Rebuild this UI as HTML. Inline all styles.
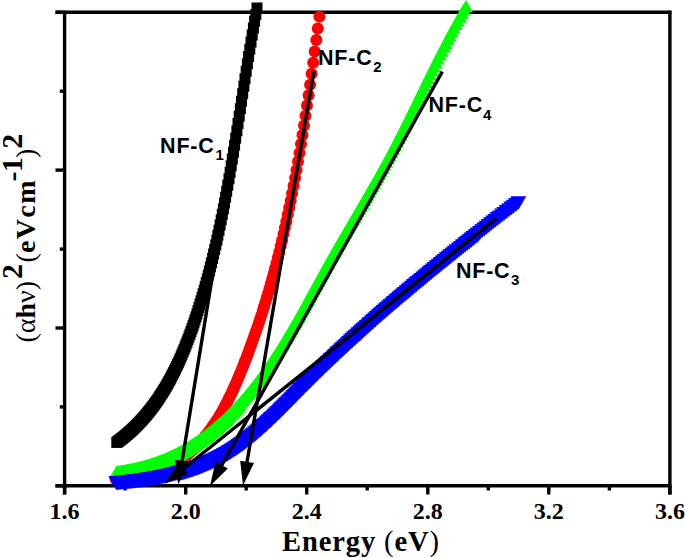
<!DOCTYPE html>
<html><head><meta charset="utf-8"><style>
html,body{margin:0;padding:0;background:#fff;width:685px;height:558px;overflow:hidden}
svg{display:block}
</style></head><body><svg width="685" height="558" viewBox="0 0 685 558"><g stroke="#000" stroke-width="3.4"><line x1="55.5" y1="12.3" x2="671.4" y2="12.3"/><line x1="64.6" y1="10.8" x2="64.6" y2="494.5"/><line x1="55.5" y1="485.8" x2="671.4" y2="485.8"/><line x1="669.9" y1="10.8" x2="669.9" y2="494.5"/><line x1="64.6" y1="485.8" x2="64.6" y2="494.5"/><line x1="125.1" y1="485.8" x2="125.1" y2="490.5"/><line x1="185.7" y1="485.8" x2="185.7" y2="494.5"/><line x1="246.2" y1="485.8" x2="246.2" y2="490.5"/><line x1="306.7" y1="485.8" x2="306.7" y2="494.5"/><line x1="367.2" y1="485.8" x2="367.2" y2="490.5"/><line x1="427.8" y1="485.8" x2="427.8" y2="494.5"/><line x1="488.3" y1="485.8" x2="488.3" y2="490.5"/><line x1="548.8" y1="485.8" x2="548.8" y2="494.5"/><line x1="609.4" y1="485.8" x2="609.4" y2="490.5"/><line x1="669.9" y1="485.8" x2="669.9" y2="494.5"/><line x1="55.5" y1="12.3" x2="64.6" y2="12.3"/><line x1="59.8" y1="91.2" x2="64.6" y2="91.2"/><line x1="55.5" y1="170.1" x2="64.6" y2="170.1"/><line x1="59.8" y1="249.1" x2="64.6" y2="249.1"/><line x1="55.5" y1="328.0" x2="64.6" y2="328.0"/><line x1="59.8" y1="406.9" x2="64.6" y2="406.9"/><line x1="55.5" y1="485.8" x2="64.6" y2="485.8"/></g><g font-family="Liberation Serif, serif" font-weight="bold" font-size="24" text-anchor="middle"><text x="64.6" y="518.8">1.6</text><text x="185.7" y="518.8">2.0</text><text x="306.7" y="518.8">2.4</text><text x="427.8" y="518.8">2.8</text><text x="548.8" y="518.8">3.2</text><text x="669.9" y="518.8">3.6</text></g><text x="361" y="550.8" font-family="Liberation Serif, serif" font-weight="bold" font-size="28.5" text-anchor="middle" letter-spacing="0.9">Energy <tspan font-weight="normal">(</tspan>eV<tspan font-weight="normal">)</tspan></text><text transform="translate(35,342.5) rotate(-90)" font-family="Liberation Serif, serif" font-weight="bold" font-size="28"><tspan font-weight="normal">(α</tspan>h<tspan font-weight="normal">ν)</tspan><tspan dy="-13" font-size="30" dx="2">2</tspan><tspan dy="13" font-weight="normal" dx="1.5">(</tspan><tspan letter-spacing="1.4">eVc</tspan>m<tspan dy="-13" font-size="30" dx="-1" letter-spacing="-0.8">-1</tspan><tspan dy="13" font-weight="normal">)</tspan><tspan dy="-13" font-size="30">2</tspan></text><g fill="#000"><rect x="111.3" y="436.9" width="11" height="11"/><rect x="112.0" y="436.4" width="11" height="11"/><rect x="112.8" y="435.8" width="11" height="11"/><rect x="113.6" y="435.2" width="11" height="11"/><rect x="114.4" y="434.6" width="11" height="11"/><rect x="115.1" y="434.0" width="11" height="11"/><rect x="115.9" y="433.4" width="11" height="11"/><rect x="116.7" y="432.8" width="11" height="11"/><rect x="117.5" y="432.2" width="11" height="11"/><rect x="118.3" y="431.5" width="11" height="11"/><rect x="119.1" y="430.9" width="11" height="11"/><rect x="119.8" y="430.2" width="11" height="11"/><rect x="120.6" y="429.6" width="11" height="11"/><rect x="121.4" y="428.9" width="11" height="11"/><rect x="122.2" y="428.2" width="11" height="11"/><rect x="123.0" y="427.5" width="11" height="11"/><rect x="123.8" y="426.8" width="11" height="11"/><rect x="124.6" y="426.1" width="11" height="11"/><rect x="125.4" y="425.3" width="11" height="11"/><rect x="126.3" y="424.6" width="11" height="11"/><rect x="127.1" y="423.8" width="11" height="11"/><rect x="127.9" y="423.1" width="11" height="11"/><rect x="128.7" y="422.3" width="11" height="11"/><rect x="129.5" y="421.5" width="11" height="11"/><rect x="130.3" y="420.7" width="11" height="11"/><rect x="131.2" y="419.8" width="11" height="11"/><rect x="132.0" y="419.0" width="11" height="11"/><rect x="132.8" y="418.1" width="11" height="11"/><rect x="133.6" y="417.3" width="11" height="11"/><rect x="134.5" y="416.4" width="11" height="11"/><rect x="135.3" y="415.5" width="11" height="11"/><rect x="136.1" y="414.6" width="11" height="11"/><rect x="137.0" y="413.7" width="11" height="11"/><rect x="137.8" y="412.7" width="11" height="11"/><rect x="138.7" y="411.7" width="11" height="11"/><rect x="139.5" y="410.8" width="11" height="11"/><rect x="140.4" y="409.8" width="11" height="11"/><rect x="141.2" y="408.8" width="11" height="11"/><rect x="142.1" y="407.7" width="11" height="11"/><rect x="142.9" y="406.7" width="11" height="11"/><rect x="143.8" y="405.6" width="11" height="11"/><rect x="144.7" y="404.5" width="11" height="11"/><rect x="145.5" y="403.4" width="11" height="11"/><rect x="146.4" y="402.3" width="11" height="11"/><rect x="147.3" y="401.1" width="11" height="11"/><rect x="148.2" y="399.9" width="11" height="11"/><rect x="149.0" y="398.7" width="11" height="11"/><rect x="149.9" y="397.5" width="11" height="11"/><rect x="150.8" y="396.3" width="11" height="11"/><rect x="151.7" y="395.0" width="11" height="11"/><rect x="152.6" y="393.7" width="11" height="11"/><rect x="153.5" y="392.4" width="11" height="11"/><rect x="154.3" y="391.0" width="11" height="11"/><rect x="155.2" y="389.6" width="11" height="11"/><rect x="156.1" y="388.2" width="11" height="11"/><rect x="157.0" y="386.8" width="11" height="11"/><rect x="157.9" y="385.3" width="11" height="11"/><rect x="158.9" y="383.9" width="11" height="11"/><rect x="159.8" y="382.3" width="11" height="11"/><rect x="160.7" y="380.8" width="11" height="11"/><rect x="161.6" y="379.2" width="11" height="11"/><rect x="162.5" y="377.6" width="11" height="11"/><rect x="163.4" y="375.9" width="11" height="11"/><rect x="164.4" y="374.2" width="11" height="11"/><rect x="165.3" y="372.5" width="11" height="11"/><rect x="166.2" y="370.7" width="11" height="11"/><rect x="167.2" y="368.9" width="11" height="11"/><rect x="168.1" y="367.1" width="11" height="11"/><rect x="169.0" y="365.2" width="11" height="11"/><rect x="170.0" y="363.3" width="11" height="11"/><rect x="170.9" y="361.3" width="11" height="11"/><rect x="171.9" y="359.3" width="11" height="11"/><rect x="172.8" y="357.3" width="11" height="11"/><rect x="173.8" y="355.2" width="11" height="11"/><rect x="174.7" y="353.0" width="11" height="11"/><rect x="175.7" y="350.8" width="11" height="11"/><rect x="176.6" y="348.6" width="11" height="11"/><rect x="177.6" y="346.3" width="11" height="11"/><rect x="178.6" y="343.9" width="11" height="11"/><rect x="179.6" y="341.5" width="11" height="11"/><rect x="180.5" y="339.1" width="11" height="11"/><rect x="181.5" y="336.6" width="11" height="11"/><rect x="182.5" y="334.0" width="11" height="11"/><rect x="183.5" y="331.4" width="11" height="11"/><rect x="184.5" y="328.7" width="11" height="11"/><rect x="185.5" y="326.0" width="11" height="11"/><rect x="186.5" y="323.2" width="11" height="11"/><rect x="187.5" y="320.3" width="11" height="11"/><rect x="188.5" y="317.4" width="11" height="11"/><rect x="189.5" y="314.4" width="11" height="11"/><rect x="190.5" y="311.4" width="11" height="11"/><rect x="191.5" y="308.3" width="11" height="11"/><rect x="192.5" y="305.1" width="11" height="11"/><rect x="193.5" y="301.9" width="11" height="11"/><rect x="194.5" y="298.6" width="11" height="11"/><rect x="195.6" y="295.3" width="11" height="11"/><rect x="196.6" y="291.8" width="11" height="11"/><rect x="197.6" y="288.3" width="11" height="11"/><rect x="198.7" y="284.7" width="11" height="11"/><rect x="199.7" y="281.1" width="11" height="11"/><rect x="200.7" y="277.3" width="11" height="11"/><rect x="201.8" y="273.5" width="11" height="11"/><rect x="202.8" y="269.6" width="11" height="11"/><rect x="203.9" y="265.6" width="11" height="11"/><rect x="204.9" y="261.5" width="11" height="11"/><rect x="206.0" y="257.3" width="11" height="11"/><rect x="207.1" y="252.9" width="11" height="11"/><rect x="208.1" y="248.5" width="11" height="11"/><rect x="209.2" y="244.0" width="11" height="11"/><rect x="210.3" y="239.4" width="11" height="11"/><rect x="211.4" y="234.6" width="11" height="11"/><rect x="212.4" y="229.7" width="11" height="11"/><rect x="213.5" y="224.7" width="11" height="11"/><rect x="214.6" y="219.5" width="11" height="11"/><rect x="215.7" y="214.3" width="11" height="11"/><rect x="216.8" y="208.8" width="11" height="11"/><rect x="217.9" y="203.3" width="11" height="11"/><rect x="219.0" y="197.6" width="11" height="11"/><rect x="220.1" y="191.7" width="11" height="11"/><rect x="221.2" y="185.7" width="11" height="11"/><rect x="222.3" y="179.6" width="11" height="11"/><rect x="223.5" y="173.3" width="11" height="11"/><rect x="224.6" y="166.9" width="11" height="11"/><rect x="225.7" y="160.3" width="11" height="11"/><rect x="226.8" y="153.5" width="11" height="11"/><rect x="228.0" y="146.7" width="11" height="11"/><rect x="229.1" y="139.7" width="11" height="11"/><rect x="230.2" y="132.6" width="11" height="11"/><rect x="231.4" y="125.3" width="11" height="11"/><rect x="232.5" y="118.0" width="11" height="11"/><rect x="233.7" y="110.6" width="11" height="11"/><rect x="234.9" y="103.2" width="11" height="11"/><rect x="236.0" y="95.7" width="11" height="11"/><rect x="237.2" y="88.2" width="11" height="11"/><rect x="238.4" y="80.7" width="11" height="11"/><rect x="239.5" y="73.2" width="11" height="11"/><rect x="240.7" y="65.7" width="11" height="11"/><rect x="241.9" y="58.3" width="11" height="11"/><rect x="243.1" y="51.0" width="11" height="11"/><rect x="244.3" y="43.7" width="11" height="11"/><rect x="245.5" y="36.5" width="11" height="11"/><rect x="246.7" y="29.5" width="11" height="11"/><rect x="247.9" y="22.5" width="11" height="11"/><rect x="249.1" y="15.7" width="11" height="11"/><rect x="250.3" y="9.1" width="11" height="11"/><rect x="251.5" y="2.5" width="11" height="11"/></g><g fill="#ff0000"><circle cx="115.6" cy="479.0" r="6.0"/><circle cx="116.4" cy="479.0" r="6.0"/><circle cx="117.3" cy="479.0" r="6.0"/><circle cx="118.1" cy="479.1" r="6.0"/><circle cx="118.9" cy="479.1" r="6.0"/><circle cx="119.8" cy="479.1" r="6.0"/><circle cx="120.6" cy="479.1" r="6.0"/><circle cx="121.5" cy="479.1" r="6.0"/><circle cx="122.3" cy="479.1" r="6.0"/><circle cx="123.1" cy="479.0" r="6.0"/><circle cx="124.0" cy="479.0" r="6.0"/><circle cx="124.8" cy="479.0" r="6.0"/><circle cx="125.7" cy="478.9" r="6.0"/><circle cx="126.6" cy="478.9" r="6.0"/><circle cx="127.4" cy="478.8" r="6.0"/><circle cx="128.3" cy="478.8" r="6.0"/><circle cx="129.1" cy="478.7" r="6.0"/><circle cx="130.0" cy="478.6" r="6.0"/><circle cx="130.9" cy="478.5" r="6.0"/><circle cx="131.8" cy="478.4" r="6.0"/><circle cx="132.6" cy="478.3" r="6.0"/><circle cx="133.5" cy="478.2" r="6.0"/><circle cx="134.4" cy="478.1" r="6.0"/><circle cx="135.3" cy="478.0" r="6.0"/><circle cx="136.2" cy="477.9" r="6.0"/><circle cx="137.1" cy="477.7" r="6.0"/><circle cx="138.0" cy="477.6" r="6.0"/><circle cx="138.8" cy="477.4" r="6.0"/><circle cx="139.7" cy="477.2" r="6.0"/><circle cx="140.7" cy="477.1" r="6.0"/><circle cx="141.6" cy="476.9" r="6.0"/><circle cx="142.5" cy="476.7" r="6.0"/><circle cx="143.4" cy="476.5" r="6.0"/><circle cx="144.3" cy="476.3" r="6.0"/><circle cx="145.2" cy="476.0" r="6.0"/><circle cx="146.1" cy="475.8" r="6.0"/><circle cx="147.0" cy="475.6" r="6.0"/><circle cx="148.0" cy="475.3" r="6.0"/><circle cx="148.9" cy="475.0" r="6.0"/><circle cx="149.8" cy="474.8" r="6.0"/><circle cx="150.8" cy="474.5" r="6.0"/><circle cx="151.7" cy="474.2" r="6.0"/><circle cx="152.6" cy="473.9" r="6.0"/><circle cx="153.6" cy="473.5" r="6.0"/><circle cx="154.5" cy="473.2" r="6.0"/><circle cx="155.5" cy="472.9" r="6.0"/><circle cx="156.4" cy="472.5" r="6.0"/><circle cx="157.4" cy="472.2" r="6.0"/><circle cx="158.4" cy="471.8" r="6.0"/><circle cx="159.3" cy="471.4" r="6.0"/><circle cx="160.3" cy="471.0" r="6.0"/><circle cx="161.3" cy="470.6" r="6.0"/><circle cx="162.2" cy="470.1" r="6.0"/><circle cx="163.2" cy="469.7" r="6.0"/><circle cx="164.2" cy="469.2" r="6.0"/><circle cx="165.2" cy="468.8" r="6.0"/><circle cx="166.2" cy="468.3" r="6.0"/><circle cx="167.1" cy="467.8" r="6.0"/><circle cx="168.1" cy="467.3" r="6.0"/><circle cx="169.1" cy="466.7" r="6.0"/><circle cx="170.1" cy="466.2" r="6.0"/><circle cx="171.1" cy="465.6" r="6.0"/><circle cx="172.1" cy="465.1" r="6.0"/><circle cx="173.1" cy="464.5" r="6.0"/><circle cx="174.2" cy="463.9" r="6.0"/><circle cx="175.2" cy="463.2" r="6.0"/><circle cx="176.2" cy="462.6" r="6.0"/><circle cx="177.2" cy="461.9" r="6.0"/><circle cx="178.2" cy="461.2" r="6.0"/><circle cx="179.3" cy="460.6" r="6.0"/><circle cx="180.3" cy="459.8" r="6.0"/><circle cx="181.4" cy="459.1" r="6.0"/><circle cx="182.4" cy="458.3" r="6.0"/><circle cx="183.4" cy="457.6" r="6.0"/><circle cx="184.5" cy="456.8" r="6.0"/><circle cx="185.5" cy="455.9" r="6.0"/><circle cx="186.6" cy="455.1" r="6.0"/><circle cx="187.7" cy="454.2" r="6.0"/><circle cx="188.7" cy="453.3" r="6.0"/><circle cx="189.8" cy="452.4" r="6.0"/><circle cx="190.9" cy="451.5" r="6.0"/><circle cx="191.9" cy="450.5" r="6.0"/><circle cx="193.0" cy="449.5" r="6.0"/><circle cx="194.1" cy="448.5" r="6.0"/><circle cx="195.2" cy="447.5" r="6.0"/><circle cx="196.3" cy="446.4" r="6.0"/><circle cx="197.4" cy="445.3" r="6.0"/><circle cx="198.5" cy="444.2" r="6.0"/><circle cx="199.6" cy="443.0" r="6.0"/><circle cx="200.7" cy="441.8" r="6.0"/><circle cx="201.8" cy="440.5" r="6.0"/><circle cx="202.9" cy="439.3" r="6.0"/><circle cx="204.0" cy="438.0" r="6.0"/><circle cx="205.1" cy="436.6" r="6.0"/><circle cx="206.2" cy="435.2" r="6.0"/><circle cx="207.4" cy="433.8" r="6.0"/><circle cx="208.5" cy="432.3" r="6.0"/><circle cx="209.6" cy="430.8" r="6.0"/><circle cx="210.8" cy="429.2" r="6.0"/><circle cx="211.9" cy="427.6" r="6.0"/><circle cx="213.1" cy="426.0" r="6.0"/><circle cx="214.2" cy="424.3" r="6.0"/><circle cx="215.4" cy="422.5" r="6.0"/><circle cx="216.6" cy="420.7" r="6.0"/><circle cx="217.7" cy="418.9" r="6.0"/><circle cx="218.9" cy="417.0" r="6.0"/><circle cx="220.1" cy="415.0" r="6.0"/><circle cx="221.3" cy="413.0" r="6.0"/><circle cx="222.4" cy="410.9" r="6.0"/><circle cx="223.6" cy="408.8" r="6.0"/><circle cx="224.8" cy="406.6" r="6.0"/><circle cx="226.0" cy="404.3" r="6.0"/><circle cx="227.2" cy="402.0" r="6.0"/><circle cx="228.4" cy="399.6" r="6.0"/><circle cx="229.6" cy="397.1" r="6.0"/><circle cx="230.9" cy="394.6" r="6.0"/><circle cx="232.1" cy="392.0" r="6.0"/><circle cx="233.3" cy="389.3" r="6.0"/><circle cx="234.5" cy="386.6" r="6.0"/><circle cx="235.8" cy="383.8" r="6.0"/><circle cx="237.0" cy="380.9" r="6.0"/><circle cx="238.2" cy="378.0" r="6.0"/><circle cx="239.5" cy="375.0" r="6.0"/><circle cx="240.7" cy="372.0" r="6.0"/><circle cx="242.0" cy="368.9" r="6.0"/><circle cx="243.3" cy="365.7" r="6.0"/><circle cx="244.5" cy="362.5" r="6.0"/><circle cx="245.8" cy="359.2" r="6.0"/><circle cx="247.1" cy="355.9" r="6.0"/><circle cx="248.4" cy="352.5" r="6.0"/><circle cx="249.6" cy="349.1" r="6.0"/><circle cx="250.9" cy="345.6" r="6.0"/><circle cx="252.2" cy="342.0" r="6.0"/><circle cx="253.5" cy="338.3" r="6.0"/><circle cx="254.8" cy="334.6" r="6.0"/><circle cx="256.2" cy="330.8" r="6.0"/><circle cx="257.5" cy="327.0" r="6.0"/><circle cx="258.8" cy="323.0" r="6.0"/><circle cx="260.1" cy="319.0" r="6.0"/><circle cx="261.5" cy="314.9" r="6.0"/><circle cx="262.8" cy="310.7" r="6.0"/><circle cx="264.1" cy="306.4" r="6.0"/><circle cx="265.5" cy="302.0" r="6.0"/><circle cx="266.8" cy="297.5" r="6.0"/><circle cx="268.2" cy="292.9" r="6.0"/><circle cx="269.6" cy="288.2" r="6.0"/><circle cx="270.9" cy="283.4" r="6.0"/><circle cx="272.3" cy="278.5" r="6.0"/><circle cx="273.7" cy="273.4" r="6.0"/><circle cx="275.1" cy="268.2" r="6.0"/><circle cx="276.5" cy="262.9" r="6.0"/><circle cx="277.9" cy="257.5" r="6.0"/><circle cx="279.3" cy="251.9" r="6.0"/><circle cx="280.7" cy="246.1" r="6.0"/><circle cx="282.1" cy="240.2" r="6.0"/><circle cx="283.5" cy="234.1" r="6.0"/><circle cx="284.9" cy="227.8" r="6.0"/><circle cx="286.4" cy="221.3" r="6.0"/><circle cx="287.8" cy="214.6" r="6.0"/><circle cx="289.2" cy="207.8" r="6.0"/><circle cx="290.7" cy="200.7" r="6.0"/><circle cx="292.1" cy="193.3" r="6.0"/><circle cx="293.6" cy="185.8" r="6.0"/><circle cx="295.1" cy="178.0" r="6.0"/><circle cx="296.5" cy="169.9" r="6.0"/><circle cx="298.0" cy="161.6" r="6.0"/><circle cx="299.5" cy="153.0" r="6.0"/><circle cx="301.0" cy="144.1" r="6.0"/><circle cx="302.5" cy="134.9" r="6.0"/><circle cx="304.0" cy="125.4" r="6.0"/><circle cx="305.5" cy="115.7" r="6.0"/><circle cx="307.0" cy="105.6" r="6.0"/><circle cx="308.6" cy="95.3" r="6.0"/><circle cx="310.1" cy="84.7" r="6.0"/><circle cx="311.6" cy="73.8" r="6.0"/><circle cx="313.2" cy="62.7" r="6.0"/><circle cx="314.7" cy="51.4" r="6.0"/><circle cx="316.3" cy="39.9" r="6.0"/><circle cx="317.8" cy="28.4" r="6.0"/><circle cx="319.4" cy="16.7" r="6.0"/></g><g fill="#00ff00"><path d="M150.1 460.2l7.0 12.1h-14.0z"/><path d="M150.9 459.9l7.0 12.1h-14.0z"/><path d="M151.8 459.6l7.0 12.1h-14.0z"/><path d="M152.7 459.3l7.0 12.1h-14.0z"/><path d="M153.5 459.1l7.0 12.1h-14.0z"/><path d="M154.4 458.8l7.0 12.1h-14.0z"/><path d="M155.3 458.4l7.0 12.1h-14.0z"/><path d="M156.2 458.1l7.0 12.1h-14.0z"/><path d="M157.1 457.8l7.0 12.1h-14.0z"/><path d="M157.9 457.5l7.0 12.1h-14.0z"/><path d="M158.8 457.2l7.0 12.1h-14.0z"/><path d="M159.7 456.8l7.0 12.1h-14.0z"/><path d="M160.6 456.5l7.0 12.1h-14.0z"/><path d="M161.5 456.1l7.0 12.1h-14.0z"/><path d="M162.4 455.8l7.0 12.1h-14.0z"/><path d="M163.3 455.4l7.0 12.1h-14.0z"/><path d="M164.2 455.1l7.0 12.1h-14.0z"/><path d="M165.1 454.7l7.0 12.1h-14.0z"/><path d="M166.1 454.3l7.0 12.1h-14.0z"/><path d="M167.0 453.9l7.0 12.1h-14.0z"/><path d="M167.9 453.5l7.0 12.1h-14.0z"/><path d="M168.8 453.1l7.0 12.1h-14.0z"/><path d="M169.7 452.7l7.0 12.1h-14.0z"/><path d="M170.7 452.3l7.0 12.1h-14.0z"/><path d="M171.6 451.8l7.0 12.1h-14.0z"/><path d="M172.5 451.4l7.0 12.1h-14.0z"/><path d="M173.5 451.0l7.0 12.1h-14.0z"/><path d="M174.4 450.5l7.0 12.1h-14.0z"/><path d="M175.3 450.0l7.0 12.1h-14.0z"/><path d="M176.3 449.6l7.0 12.1h-14.0z"/><path d="M177.2 449.1l7.0 12.1h-14.0z"/><path d="M178.2 448.6l7.0 12.1h-14.0z"/><path d="M179.1 448.1l7.0 12.1h-14.0z"/><path d="M180.1 447.6l7.0 12.1h-14.0z"/><path d="M181.1 447.1l7.0 12.1h-14.0z"/><path d="M182.0 446.5l7.0 12.1h-14.0z"/><path d="M183.0 446.0l7.0 12.1h-14.0z"/><path d="M184.0 445.5l7.0 12.1h-14.0z"/><path d="M184.9 444.9l7.0 12.1h-14.0z"/><path d="M185.9 444.3l7.0 12.1h-14.0z"/><path d="M186.9 443.7l7.0 12.1h-14.0z"/><path d="M187.9 443.2l7.0 12.1h-14.0z"/><path d="M188.9 442.6l7.0 12.1h-14.0z"/><path d="M189.8 441.9l7.0 12.1h-14.0z"/><path d="M190.8 441.3l7.0 12.1h-14.0z"/><path d="M191.8 440.7l7.0 12.1h-14.0z"/><path d="M192.8 440.0l7.0 12.1h-14.0z"/><path d="M193.8 439.4l7.0 12.1h-14.0z"/><path d="M194.8 438.7l7.0 12.1h-14.0z"/><path d="M195.8 438.0l7.0 12.1h-14.0z"/><path d="M196.9 437.4l7.0 12.1h-14.0z"/><path d="M197.9 436.7l7.0 12.1h-14.0z"/><path d="M198.9 435.9l7.0 12.1h-14.0z"/><path d="M199.9 435.2l7.0 12.1h-14.0z"/><path d="M200.9 434.5l7.0 12.1h-14.0z"/><path d="M202.0 433.7l7.0 12.1h-14.0z"/><path d="M203.0 433.0l7.0 12.1h-14.0z"/><path d="M204.0 432.2l7.0 12.1h-14.0z"/><path d="M205.1 431.4l7.0 12.1h-14.0z"/><path d="M206.1 430.6l7.0 12.1h-14.0z"/><path d="M207.1 429.8l7.0 12.1h-14.0z"/><path d="M208.2 429.0l7.0 12.1h-14.0z"/><path d="M209.2 428.1l7.0 12.1h-14.0z"/><path d="M210.3 427.3l7.0 12.1h-14.0z"/><path d="M211.4 426.4l7.0 12.1h-14.0z"/><path d="M212.4 425.6l7.0 12.1h-14.0z"/><path d="M213.5 424.7l7.0 12.1h-14.0z"/><path d="M214.6 423.8l7.0 12.1h-14.0z"/><path d="M215.6 422.8l7.0 12.1h-14.0z"/><path d="M216.7 421.9l7.0 12.1h-14.0z"/><path d="M217.8 420.9l7.0 12.1h-14.0z"/><path d="M218.9 420.0l7.0 12.1h-14.0z"/><path d="M220.0 419.0l7.0 12.1h-14.0z"/><path d="M221.1 418.0l7.0 12.1h-14.0z"/><path d="M222.2 417.0l7.0 12.1h-14.0z"/><path d="M223.3 416.0l7.0 12.1h-14.0z"/><path d="M224.4 414.9l7.0 12.1h-14.0z"/><path d="M225.5 413.9l7.0 12.1h-14.0z"/><path d="M226.6 412.8l7.0 12.1h-14.0z"/><path d="M227.7 411.7l7.0 12.1h-14.0z"/><path d="M228.8 410.6l7.0 12.1h-14.0z"/><path d="M229.9 409.4l7.0 12.1h-14.0z"/><path d="M231.1 408.3l7.0 12.1h-14.0z"/><path d="M232.2 407.1l7.0 12.1h-14.0z"/><path d="M233.3 405.9l7.0 12.1h-14.0z"/><path d="M234.5 404.7l7.0 12.1h-14.0z"/><path d="M235.6 403.5l7.0 12.1h-14.0z"/><path d="M236.7 402.3l7.0 12.1h-14.0z"/><path d="M237.9 401.0l7.0 12.1h-14.0z"/><path d="M239.1 399.7l7.0 12.1h-14.0z"/><path d="M116.7 465.5l7.0 12.1h-14.0z"/><path d="M117.4 465.5l7.0 12.1h-14.0z"/><path d="M118.2 465.4l7.0 12.1h-14.0z"/><path d="M119.0 465.3l7.0 12.1h-14.0z"/><path d="M119.8 465.1l7.0 12.1h-14.0z"/><path d="M120.5 465.0l7.0 12.1h-14.0z"/><path d="M121.3 464.9l7.0 12.1h-14.0z"/><path d="M122.1 464.8l7.0 12.1h-14.0z"/><path d="M122.9 464.6l7.0 12.1h-14.0z"/><path d="M123.7 464.5l7.0 12.1h-14.0z"/><path d="M124.5 464.4l7.0 12.1h-14.0z"/><path d="M125.2 464.2l7.0 12.1h-14.0z"/><path d="M126.0 464.1l7.0 12.1h-14.0z"/><path d="M126.8 464.0l7.0 12.1h-14.0z"/><path d="M127.6 463.8l7.0 12.1h-14.0z"/><path d="M128.4 463.6l7.0 12.1h-14.0z"/><path d="M129.2 463.5l7.0 12.1h-14.0z"/><path d="M130.0 463.3l7.0 12.1h-14.0z"/><path d="M130.8 463.2l7.0 12.1h-14.0z"/><path d="M131.6 463.0l7.0 12.1h-14.0z"/><path d="M132.5 462.8l7.0 12.1h-14.0z"/><path d="M133.3 462.6l7.0 12.1h-14.0z"/><path d="M134.1 462.5l7.0 12.1h-14.0z"/><path d="M134.9 462.3l7.0 12.1h-14.0z"/><path d="M135.7 462.1l7.0 12.1h-14.0z"/><path d="M136.5 461.9l7.0 12.1h-14.0z"/><path d="M137.4 461.7l7.0 12.1h-14.0z"/><path d="M138.2 461.5l7.0 12.1h-14.0z"/><path d="M139.0 461.3l7.0 12.1h-14.0z"/><path d="M139.9 461.1l7.0 12.1h-14.0z"/><path d="M140.7 460.9l7.0 12.1h-14.0z"/><path d="M141.5 460.7l7.0 12.1h-14.0z"/><path d="M142.4 460.4l7.0 12.1h-14.0z"/><path d="M143.2 460.2l7.0 12.1h-14.0z"/><path d="M144.1 460.0l7.0 12.1h-14.0z"/><path d="M144.9 459.7l7.0 12.1h-14.0z"/><path d="M145.8 459.5l7.0 12.1h-14.0z"/><path d="M146.6 459.2l7.0 12.1h-14.0z"/><path d="M147.5 459.0l7.0 12.1h-14.0z"/><path d="M148.3 458.7l7.0 12.1h-14.0z"/><path d="M149.2 458.5l7.0 12.1h-14.0z"/><path d="M150.1 458.2l7.0 12.1h-14.0z"/><path d="M150.9 457.9l7.0 12.1h-14.0z"/><path d="M151.8 457.6l7.0 12.1h-14.0z"/><path d="M152.7 457.3l7.0 12.1h-14.0z"/><path d="M153.5 457.1l7.0 12.1h-14.0z"/><path d="M154.4 456.8l7.0 12.1h-14.0z"/><path d="M155.3 456.4l7.0 12.1h-14.0z"/><path d="M156.2 456.1l7.0 12.1h-14.0z"/><path d="M157.1 455.8l7.0 12.1h-14.0z"/><path d="M157.9 455.5l7.0 12.1h-14.0z"/><path d="M158.8 455.2l7.0 12.1h-14.0z"/><path d="M159.7 454.8l7.0 12.1h-14.0z"/><path d="M160.6 454.5l7.0 12.1h-14.0z"/><path d="M161.5 454.1l7.0 12.1h-14.0z"/><path d="M162.4 453.8l7.0 12.1h-14.0z"/><path d="M163.3 453.4l7.0 12.1h-14.0z"/><path d="M164.2 453.1l7.0 12.1h-14.0z"/><path d="M165.1 452.7l7.0 12.1h-14.0z"/><path d="M166.1 452.3l7.0 12.1h-14.0z"/><path d="M167.0 451.9l7.0 12.1h-14.0z"/><path d="M167.9 451.5l7.0 12.1h-14.0z"/><path d="M168.8 451.1l7.0 12.1h-14.0z"/><path d="M169.7 450.7l7.0 12.1h-14.0z"/><path d="M170.7 450.3l7.0 12.1h-14.0z"/><path d="M171.6 449.8l7.0 12.1h-14.0z"/><path d="M172.5 449.4l7.0 12.1h-14.0z"/><path d="M173.5 449.0l7.0 12.1h-14.0z"/><path d="M174.4 448.5l7.0 12.1h-14.0z"/><path d="M175.3 448.0l7.0 12.1h-14.0z"/><path d="M176.3 447.6l7.0 12.1h-14.0z"/><path d="M177.2 447.1l7.0 12.1h-14.0z"/><path d="M178.2 446.6l7.0 12.1h-14.0z"/><path d="M179.1 446.1l7.0 12.1h-14.0z"/><path d="M180.1 445.6l7.0 12.1h-14.0z"/><path d="M181.1 445.1l7.0 12.1h-14.0z"/><path d="M182.0 444.5l7.0 12.1h-14.0z"/><path d="M183.0 444.0l7.0 12.1h-14.0z"/><path d="M184.0 443.5l7.0 12.1h-14.0z"/><path d="M184.9 442.9l7.0 12.1h-14.0z"/><path d="M185.9 442.3l7.0 12.1h-14.0z"/><path d="M186.9 441.7l7.0 12.1h-14.0z"/><path d="M187.9 441.2l7.0 12.1h-14.0z"/><path d="M188.9 440.6l7.0 12.1h-14.0z"/><path d="M189.8 439.9l7.0 12.1h-14.0z"/><path d="M190.8 439.3l7.0 12.1h-14.0z"/><path d="M191.8 438.7l7.0 12.1h-14.0z"/><path d="M192.8 438.0l7.0 12.1h-14.0z"/><path d="M193.8 437.4l7.0 12.1h-14.0z"/><path d="M194.8 436.7l7.0 12.1h-14.0z"/><path d="M195.8 436.0l7.0 12.1h-14.0z"/><path d="M196.9 435.4l7.0 12.1h-14.0z"/><path d="M197.9 434.7l7.0 12.1h-14.0z"/><path d="M198.9 433.9l7.0 12.1h-14.0z"/><path d="M199.9 433.2l7.0 12.1h-14.0z"/><path d="M200.9 432.5l7.0 12.1h-14.0z"/><path d="M202.0 431.7l7.0 12.1h-14.0z"/><path d="M203.0 431.0l7.0 12.1h-14.0z"/><path d="M204.0 430.2l7.0 12.1h-14.0z"/><path d="M205.1 429.4l7.0 12.1h-14.0z"/><path d="M206.1 428.6l7.0 12.1h-14.0z"/><path d="M207.1 427.8l7.0 12.1h-14.0z"/><path d="M208.2 427.0l7.0 12.1h-14.0z"/><path d="M209.2 426.1l7.0 12.1h-14.0z"/><path d="M210.3 425.3l7.0 12.1h-14.0z"/><path d="M211.4 424.4l7.0 12.1h-14.0z"/><path d="M212.4 423.6l7.0 12.1h-14.0z"/><path d="M213.5 422.7l7.0 12.1h-14.0z"/><path d="M214.6 421.8l7.0 12.1h-14.0z"/><path d="M215.6 420.8l7.0 12.1h-14.0z"/><path d="M216.7 419.9l7.0 12.1h-14.0z"/><path d="M217.8 418.9l7.0 12.1h-14.0z"/><path d="M218.9 418.0l7.0 12.1h-14.0z"/><path d="M220.0 417.0l7.0 12.1h-14.0z"/><path d="M221.1 416.0l7.0 12.1h-14.0z"/><path d="M222.2 415.0l7.0 12.1h-14.0z"/><path d="M223.3 414.0l7.0 12.1h-14.0z"/><path d="M224.4 412.9l7.0 12.1h-14.0z"/><path d="M225.5 411.9l7.0 12.1h-14.0z"/><path d="M226.6 410.8l7.0 12.1h-14.0z"/><path d="M227.7 409.7l7.0 12.1h-14.0z"/><path d="M228.8 408.6l7.0 12.1h-14.0z"/><path d="M229.9 407.4l7.0 12.1h-14.0z"/><path d="M231.1 406.3l7.0 12.1h-14.0z"/><path d="M232.2 405.1l7.0 12.1h-14.0z"/><path d="M233.3 403.9l7.0 12.1h-14.0z"/><path d="M234.5 402.7l7.0 12.1h-14.0z"/><path d="M235.6 401.5l7.0 12.1h-14.0z"/><path d="M236.7 400.3l7.0 12.1h-14.0z"/><path d="M237.9 399.0l7.0 12.1h-14.0z"/><path d="M239.1 397.7l7.0 12.1h-14.0z"/><path d="M240.2 396.4l7.0 12.1h-14.0z"/><path d="M241.4 395.1l7.0 12.1h-14.0z"/><path d="M242.5 393.8l7.0 12.1h-14.0z"/><path d="M243.7 392.4l7.0 12.1h-14.0z"/><path d="M244.9 391.0l7.0 12.1h-14.0z"/><path d="M246.1 389.6l7.0 12.1h-14.0z"/><path d="M247.2 388.2l7.0 12.1h-14.0z"/><path d="M248.4 386.8l7.0 12.1h-14.0z"/><path d="M249.6 385.3l7.0 12.1h-14.0z"/><path d="M250.8 383.8l7.0 12.1h-14.0z"/><path d="M252.0 382.3l7.0 12.1h-14.0z"/><path d="M253.2 380.7l7.0 12.1h-14.0z"/><path d="M254.4 379.2l7.0 12.1h-14.0z"/><path d="M255.6 377.6l7.0 12.1h-14.0z"/><path d="M256.9 376.0l7.0 12.1h-14.0z"/><path d="M258.1 374.3l7.0 12.1h-14.0z"/><path d="M259.3 372.7l7.0 12.1h-14.0z"/><path d="M260.5 371.0l7.0 12.1h-14.0z"/><path d="M261.8 369.3l7.0 12.1h-14.0z"/><path d="M263.0 367.5l7.0 12.1h-14.0z"/><path d="M264.3 365.8l7.0 12.1h-14.0z"/><path d="M265.5 364.0l7.0 12.1h-14.0z"/><path d="M266.8 362.2l7.0 12.1h-14.0z"/><path d="M268.0 360.3l7.0 12.1h-14.0z"/><path d="M269.3 358.5l7.0 12.1h-14.0z"/><path d="M270.5 356.6l7.0 12.1h-14.0z"/><path d="M271.8 354.7l7.0 12.1h-14.0z"/><path d="M273.1 352.7l7.0 12.1h-14.0z"/><path d="M274.4 350.8l7.0 12.1h-14.0z"/><path d="M275.7 348.8l7.0 12.1h-14.0z"/><path d="M277.0 346.7l7.0 12.1h-14.0z"/><path d="M278.2 344.7l7.0 12.1h-14.0z"/><path d="M279.5 342.6l7.0 12.1h-14.0z"/><path d="M280.9 340.5l7.0 12.1h-14.0z"/><path d="M282.2 338.4l7.0 12.1h-14.0z"/><path d="M283.5 336.2l7.0 12.1h-14.0z"/><path d="M284.8 334.0l7.0 12.1h-14.0z"/><path d="M286.1 331.8l7.0 12.1h-14.0z"/><path d="M287.5 329.6l7.0 12.1h-14.0z"/><path d="M288.8 327.3l7.0 12.1h-14.0z"/><path d="M290.1 325.1l7.0 12.1h-14.0z"/><path d="M291.5 322.7l7.0 12.1h-14.0z"/><path d="M292.8 320.4l7.0 12.1h-14.0z"/><path d="M294.2 318.0l7.0 12.1h-14.0z"/><path d="M295.5 315.7l7.0 12.1h-14.0z"/><path d="M296.9 313.3l7.0 12.1h-14.0z"/><path d="M298.3 310.8l7.0 12.1h-14.0z"/><path d="M299.7 308.4l7.0 12.1h-14.0z"/><path d="M301.0 305.9l7.0 12.1h-14.0z"/><path d="M302.4 303.4l7.0 12.1h-14.0z"/><path d="M303.8 300.9l7.0 12.1h-14.0z"/><path d="M305.2 298.4l7.0 12.1h-14.0z"/><path d="M306.6 295.8l7.0 12.1h-14.0z"/><path d="M308.0 293.3l7.0 12.1h-14.0z"/><path d="M309.4 290.7l7.0 12.1h-14.0z"/><path d="M310.9 288.1l7.0 12.1h-14.0z"/><path d="M312.3 285.5l7.0 12.1h-14.0z"/><path d="M313.7 282.9l7.0 12.1h-14.0z"/><path d="M315.1 280.2l7.0 12.1h-14.0z"/><path d="M316.6 277.6l7.0 12.1h-14.0z"/><path d="M318.0 275.0l7.0 12.1h-14.0z"/><path d="M319.5 272.3l7.0 12.1h-14.0z"/><path d="M320.9 269.6l7.0 12.1h-14.0z"/><path d="M322.4 267.0l7.0 12.1h-14.0z"/><path d="M323.9 264.3l7.0 12.1h-14.0z"/><path d="M325.4 261.6l7.0 12.1h-14.0z"/><path d="M326.8 258.9l7.0 12.1h-14.0z"/><path d="M328.3 256.3l7.0 12.1h-14.0z"/><path d="M329.8 253.6l7.0 12.1h-14.0z"/><path d="M331.3 250.9l7.0 12.1h-14.0z"/><path d="M332.8 248.2l7.0 12.1h-14.0z"/><path d="M334.3 245.6l7.0 12.1h-14.0z"/><path d="M335.9 242.9l7.0 12.1h-14.0z"/><path d="M337.4 240.2l7.0 12.1h-14.0z"/><path d="M338.9 237.6l7.0 12.1h-14.0z"/><path d="M340.4 234.9l7.0 12.1h-14.0z"/><path d="M342.0 232.2l7.0 12.1h-14.0z"/><path d="M343.5 229.5l7.0 12.1h-14.0z"/><path d="M345.1 226.9l7.0 12.1h-14.0z"/><path d="M346.6 224.2l7.0 12.1h-14.0z"/><path d="M348.2 221.5l7.0 12.1h-14.0z"/><path d="M349.8 218.8l7.0 12.1h-14.0z"/><path d="M351.4 216.1l7.0 12.1h-14.0z"/><path d="M353.0 213.3l7.0 12.1h-14.0z"/><path d="M354.6 210.6l7.0 12.1h-14.0z"/><path d="M356.2 207.9l7.0 12.1h-14.0z"/><path d="M357.8 205.1l7.0 12.1h-14.0z"/><path d="M359.4 202.4l7.0 12.1h-14.0z"/><path d="M361.0 199.6l7.0 12.1h-14.0z"/><path d="M362.6 196.8l7.0 12.1h-14.0z"/><path d="M364.3 194.0l7.0 12.1h-14.0z"/><path d="M365.9 191.1l7.0 12.1h-14.0z"/><path d="M367.5 188.3l7.0 12.1h-14.0z"/><path d="M369.2 185.4l7.0 12.1h-14.0z"/><path d="M370.9 182.5l7.0 12.1h-14.0z"/><path d="M372.5 179.6l7.0 12.1h-14.0z"/><path d="M374.2 176.7l7.0 12.1h-14.0z"/><path d="M375.9 173.7l7.0 12.1h-14.0z"/><path d="M377.6 170.7l7.0 12.1h-14.0z"/><path d="M379.3 167.7l7.0 12.1h-14.0z"/><path d="M381.0 164.7l7.0 12.1h-14.0z"/><path d="M382.7 161.6l7.0 12.1h-14.0z"/><path d="M384.4 158.5l7.0 12.1h-14.0z"/><path d="M386.1 155.3l7.0 12.1h-14.0z"/><path d="M387.9 152.1l7.0 12.1h-14.0z"/><path d="M389.6 148.9l7.0 12.1h-14.0z"/><path d="M391.4 145.6l7.0 12.1h-14.0z"/><path d="M393.1 142.3l7.0 12.1h-14.0z"/><path d="M394.9 138.9l7.0 12.1h-14.0z"/><path d="M396.7 135.5l7.0 12.1h-14.0z"/><path d="M398.4 132.0l7.0 12.1h-14.0z"/><path d="M400.2 128.5l7.0 12.1h-14.0z"/><path d="M402.0 125.0l7.0 12.1h-14.0z"/><path d="M403.8 121.4l7.0 12.1h-14.0z"/><path d="M405.6 117.8l7.0 12.1h-14.0z"/><path d="M407.4 114.1l7.0 12.1h-14.0z"/><path d="M409.3 110.4l7.0 12.1h-14.0z"/><path d="M411.1 106.6l7.0 12.1h-14.0z"/><path d="M413.0 102.9l7.0 12.1h-14.0z"/><path d="M414.8 99.1l7.0 12.1h-14.0z"/><path d="M416.7 95.3l7.0 12.1h-14.0z"/><path d="M418.5 91.4l7.0 12.1h-14.0z"/><path d="M420.4 87.5l7.0 12.1h-14.0z"/><path d="M422.3 83.7l7.0 12.1h-14.0z"/><path d="M424.2 79.8l7.0 12.1h-14.0z"/><path d="M426.1 75.9l7.0 12.1h-14.0z"/><path d="M428.0 71.9l7.0 12.1h-14.0z"/><path d="M429.9 68.0l7.0 12.1h-14.0z"/><path d="M431.8 64.1l7.0 12.1h-14.0z"/><path d="M433.8 60.2l7.0 12.1h-14.0z"/><path d="M435.7 56.3l7.0 12.1h-14.0z"/><path d="M437.7 52.3l7.0 12.1h-14.0z"/><path d="M439.6 48.4l7.0 12.1h-14.0z"/><path d="M441.6 44.6l7.0 12.1h-14.0z"/><path d="M443.6 40.7l7.0 12.1h-14.0z"/><path d="M445.6 36.8l7.0 12.1h-14.0z"/><path d="M447.6 33.0l7.0 12.1h-14.0z"/><path d="M449.6 29.2l7.0 12.1h-14.0z"/><path d="M451.6 25.4l7.0 12.1h-14.0z"/><path d="M453.6 21.7l7.0 12.1h-14.0z"/><path d="M455.7 18.0l7.0 12.1h-14.0z"/><path d="M457.7 14.3l7.0 12.1h-14.0z"/><path d="M459.8 10.7l7.0 12.1h-14.0z"/><path d="M461.8 7.0l7.0 12.1h-14.0z"/><path d="M463.9 3.5l7.0 12.1h-14.0z"/><path d="M466.0 -0.1l7.0 12.1h-14.0z"/></g><g fill="#0000ff"><path d="M180.7 480.8l8.0 -13.9h-16.0z"/><path d="M181.7 480.5l8.0 -13.9h-16.0z"/><path d="M182.6 480.2l8.0 -13.9h-16.0z"/><path d="M183.6 480.0l8.0 -13.9h-16.0z"/><path d="M184.6 479.7l8.0 -13.9h-16.0z"/><path d="M185.5 479.4l8.0 -13.9h-16.0z"/><path d="M186.5 479.1l8.0 -13.9h-16.0z"/><path d="M187.5 478.8l8.0 -13.9h-16.0z"/><path d="M188.5 478.5l8.0 -13.9h-16.0z"/><path d="M189.5 478.2l8.0 -13.9h-16.0z"/><path d="M190.5 477.8l8.0 -13.9h-16.0z"/><path d="M191.5 477.5l8.0 -13.9h-16.0z"/><path d="M192.5 477.2l8.0 -13.9h-16.0z"/><path d="M193.5 476.8l8.0 -13.9h-16.0z"/><path d="M194.5 476.5l8.0 -13.9h-16.0z"/><path d="M195.5 476.1l8.0 -13.9h-16.0z"/><path d="M196.5 475.8l8.0 -13.9h-16.0z"/><path d="M197.5 475.4l8.0 -13.9h-16.0z"/><path d="M198.5 475.0l8.0 -13.9h-16.0z"/><path d="M199.5 474.7l8.0 -13.9h-16.0z"/><path d="M200.5 474.3l8.0 -13.9h-16.0z"/><path d="M201.6 473.9l8.0 -13.9h-16.0z"/><path d="M202.6 473.5l8.0 -13.9h-16.0z"/><path d="M203.6 473.1l8.0 -13.9h-16.0z"/><path d="M204.7 472.6l8.0 -13.9h-16.0z"/><path d="M205.7 472.2l8.0 -13.9h-16.0z"/><path d="M206.8 471.8l8.0 -13.9h-16.0z"/><path d="M207.8 471.3l8.0 -13.9h-16.0z"/><path d="M208.9 470.9l8.0 -13.9h-16.0z"/><path d="M209.9 470.4l8.0 -13.9h-16.0z"/><path d="M211.0 469.9l8.0 -13.9h-16.0z"/><path d="M212.0 469.4l8.0 -13.9h-16.0z"/><path d="M213.1 469.0l8.0 -13.9h-16.0z"/><path d="M214.2 468.4l8.0 -13.9h-16.0z"/><path d="M215.2 467.9l8.0 -13.9h-16.0z"/><path d="M216.3 467.4l8.0 -13.9h-16.0z"/><path d="M217.4 466.9l8.0 -13.9h-16.0z"/><path d="M218.5 466.3l8.0 -13.9h-16.0z"/><path d="M219.6 465.8l8.0 -13.9h-16.0z"/><path d="M220.6 465.2l8.0 -13.9h-16.0z"/><path d="M221.7 464.6l8.0 -13.9h-16.0z"/><path d="M222.8 464.0l8.0 -13.9h-16.0z"/><path d="M223.9 463.4l8.0 -13.9h-16.0z"/><path d="M225.0 462.8l8.0 -13.9h-16.0z"/><path d="M226.2 462.1l8.0 -13.9h-16.0z"/><path d="M227.3 461.5l8.0 -13.9h-16.0z"/><path d="M228.4 460.8l8.0 -13.9h-16.0z"/><path d="M229.5 460.1l8.0 -13.9h-16.0z"/><path d="M230.6 459.5l8.0 -13.9h-16.0z"/><path d="M231.8 458.8l8.0 -13.9h-16.0z"/><path d="M232.9 458.0l8.0 -13.9h-16.0z"/><path d="M234.0 457.3l8.0 -13.9h-16.0z"/><path d="M235.2 456.6l8.0 -13.9h-16.0z"/><path d="M236.3 455.8l8.0 -13.9h-16.0z"/><path d="M237.5 455.0l8.0 -13.9h-16.0z"/><path d="M238.6 454.2l8.0 -13.9h-16.0z"/><path d="M239.8 453.4l8.0 -13.9h-16.0z"/><path d="M240.9 452.6l8.0 -13.9h-16.0z"/><path d="M242.1 451.8l8.0 -13.9h-16.0z"/><path d="M243.3 450.9l8.0 -13.9h-16.0z"/><path d="M244.4 450.0l8.0 -13.9h-16.0z"/><path d="M245.6 449.2l8.0 -13.9h-16.0z"/><path d="M246.8 448.3l8.0 -13.9h-16.0z"/><path d="M248.0 447.4l8.0 -13.9h-16.0z"/><path d="M249.2 446.4l8.0 -13.9h-16.0z"/><path d="M250.4 445.5l8.0 -13.9h-16.0z"/><path d="M251.6 444.5l8.0 -13.9h-16.0z"/><path d="M252.8 443.6l8.0 -13.9h-16.0z"/><path d="M254.0 442.6l8.0 -13.9h-16.0z"/><path d="M255.2 441.6l8.0 -13.9h-16.0z"/><path d="M256.4 440.6l8.0 -13.9h-16.0z"/><path d="M257.6 439.5l8.0 -13.9h-16.0z"/><path d="M258.8 438.5l8.0 -13.9h-16.0z"/><path d="M260.1 437.4l8.0 -13.9h-16.0z"/><path d="M261.3 436.3l8.0 -13.9h-16.0z"/><path d="M262.5 435.3l8.0 -13.9h-16.0z"/><path d="M263.8 434.1l8.0 -13.9h-16.0z"/><path d="M265.0 433.0l8.0 -13.9h-16.0z"/><path d="M266.3 431.9l8.0 -13.9h-16.0z"/><path d="M267.5 430.7l8.0 -13.9h-16.0z"/><path d="M268.8 429.6l8.0 -13.9h-16.0z"/><path d="M270.1 428.4l8.0 -13.9h-16.0z"/><path d="M271.3 427.2l8.0 -13.9h-16.0z"/><path d="M272.6 426.0l8.0 -13.9h-16.0z"/><path d="M273.9 424.8l8.0 -13.9h-16.0z"/><path d="M275.2 423.6l8.0 -13.9h-16.0z"/><path d="M276.5 422.3l8.0 -13.9h-16.0z"/><path d="M277.8 421.1l8.0 -13.9h-16.0z"/><path d="M279.1 419.8l8.0 -13.9h-16.0z"/><path d="M280.4 418.5l8.0 -13.9h-16.0z"/><path d="M281.7 417.2l8.0 -13.9h-16.0z"/><path d="M283.0 415.9l8.0 -13.9h-16.0z"/><path d="M284.3 414.6l8.0 -13.9h-16.0z"/><path d="M285.6 413.3l8.0 -13.9h-16.0z"/><path d="M287.0 412.0l8.0 -13.9h-16.0z"/><path d="M288.3 410.6l8.0 -13.9h-16.0z"/><path d="M289.6 409.3l8.0 -13.9h-16.0z"/><path d="M291.0 407.9l8.0 -13.9h-16.0z"/><path d="M292.3 406.6l8.0 -13.9h-16.0z"/><path d="M293.7 405.2l8.0 -13.9h-16.0z"/><path d="M295.0 403.8l8.0 -13.9h-16.0z"/><path d="M296.4 402.4l8.0 -13.9h-16.0z"/><path d="M297.8 401.0l8.0 -13.9h-16.0z"/><path d="M299.1 399.6l8.0 -13.9h-16.0z"/><path d="M300.5 398.2l8.0 -13.9h-16.0z"/><path d="M301.9 396.8l8.0 -13.9h-16.0z"/><path d="M303.3 395.4l8.0 -13.9h-16.0z"/><path d="M304.7 394.0l8.0 -13.9h-16.0z"/><path d="M306.1 392.6l8.0 -13.9h-16.0z"/><path d="M307.5 391.2l8.0 -13.9h-16.0z"/><path d="M308.9 389.8l8.0 -13.9h-16.0z"/><path d="M310.3 388.4l8.0 -13.9h-16.0z"/><path d="M311.7 386.9l8.0 -13.9h-16.0z"/><path d="M313.2 385.5l8.0 -13.9h-16.0z"/><path d="M314.6 384.1l8.0 -13.9h-16.0z"/><path d="M316.0 382.7l8.0 -13.9h-16.0z"/><path d="M317.5 381.3l8.0 -13.9h-16.0z"/><path d="M318.9 379.8l8.0 -13.9h-16.0z"/><path d="M320.4 378.4l8.0 -13.9h-16.0z"/><path d="M321.9 377.0l8.0 -13.9h-16.0z"/><path d="M323.3 375.6l8.0 -13.9h-16.0z"/><path d="M324.8 374.1l8.0 -13.9h-16.0z"/><path d="M326.3 372.7l8.0 -13.9h-16.0z"/><path d="M327.8 371.3l8.0 -13.9h-16.0z"/><path d="M329.3 369.9l8.0 -13.9h-16.0z"/><path d="M330.8 368.4l8.0 -13.9h-16.0z"/><path d="M332.3 367.0l8.0 -13.9h-16.0z"/><path d="M333.8 365.5l8.0 -13.9h-16.0z"/><path d="M335.3 364.1l8.0 -13.9h-16.0z"/><path d="M336.8 362.7l8.0 -13.9h-16.0z"/><path d="M338.3 361.2l8.0 -13.9h-16.0z"/><path d="M339.9 359.8l8.0 -13.9h-16.0z"/><path d="M341.4 358.3l8.0 -13.9h-16.0z"/><path d="M342.9 356.9l8.0 -13.9h-16.0z"/><path d="M344.5 355.5l8.0 -13.9h-16.0z"/><path d="M346.1 354.0l8.0 -13.9h-16.0z"/><path d="M347.6 352.6l8.0 -13.9h-16.0z"/><path d="M349.2 351.1l8.0 -13.9h-16.0z"/><path d="M350.8 349.6l8.0 -13.9h-16.0z"/><path d="M352.4 348.2l8.0 -13.9h-16.0z"/><path d="M354.0 346.7l8.0 -13.9h-16.0z"/><path d="M355.6 345.3l8.0 -13.9h-16.0z"/><path d="M357.2 343.8l8.0 -13.9h-16.0z"/><path d="M358.8 342.4l8.0 -13.9h-16.0z"/><path d="M360.4 340.9l8.0 -13.9h-16.0z"/><path d="M362.0 339.4l8.0 -13.9h-16.0z"/><path d="M363.6 337.9l8.0 -13.9h-16.0z"/><path d="M365.3 336.5l8.0 -13.9h-16.0z"/><path d="M366.9 335.0l8.0 -13.9h-16.0z"/><path d="M368.6 333.5l8.0 -13.9h-16.0z"/><path d="M370.2 332.0l8.0 -13.9h-16.0z"/><path d="M371.9 330.6l8.0 -13.9h-16.0z"/><path d="M373.6 329.1l8.0 -13.9h-16.0z"/><path d="M375.3 327.6l8.0 -13.9h-16.0z"/><path d="M376.9 326.1l8.0 -13.9h-16.0z"/><path d="M378.6 324.6l8.0 -13.9h-16.0z"/><path d="M380.3 323.1l8.0 -13.9h-16.0z"/><path d="M382.0 321.6l8.0 -13.9h-16.0z"/><path d="M383.8 320.1l8.0 -13.9h-16.0z"/><path d="M385.5 318.6l8.0 -13.9h-16.0z"/><path d="M387.2 317.1l8.0 -13.9h-16.0z"/><path d="M389.0 315.6l8.0 -13.9h-16.0z"/><path d="M390.7 314.1l8.0 -13.9h-16.0z"/><path d="M392.5 312.6l8.0 -13.9h-16.0z"/><path d="M394.2 311.1l8.0 -13.9h-16.0z"/><path d="M396.0 309.6l8.0 -13.9h-16.0z"/><path d="M397.8 308.1l8.0 -13.9h-16.0z"/><path d="M399.5 306.5l8.0 -13.9h-16.0z"/><path d="M401.3 305.0l8.0 -13.9h-16.0z"/><path d="M403.1 303.5l8.0 -13.9h-16.0z"/><path d="M404.9 302.0l8.0 -13.9h-16.0z"/><path d="M406.8 300.4l8.0 -13.9h-16.0z"/><path d="M408.6 298.9l8.0 -13.9h-16.0z"/><path d="M410.4 297.3l8.0 -13.9h-16.0z"/><path d="M412.3 295.8l8.0 -13.9h-16.0z"/><path d="M414.1 294.2l8.0 -13.9h-16.0z"/><path d="M416.0 292.7l8.0 -13.9h-16.0z"/><path d="M417.8 291.1l8.0 -13.9h-16.0z"/><path d="M419.7 289.6l8.0 -13.9h-16.0z"/><path d="M421.6 288.0l8.0 -13.9h-16.0z"/><path d="M423.5 286.5l8.0 -13.9h-16.0z"/><path d="M425.4 284.9l8.0 -13.9h-16.0z"/><path d="M427.3 283.3l8.0 -13.9h-16.0z"/><path d="M429.2 281.7l8.0 -13.9h-16.0z"/><path d="M431.1 280.2l8.0 -13.9h-16.0z"/><path d="M433.0 278.6l8.0 -13.9h-16.0z"/><path d="M435.0 277.0l8.0 -13.9h-16.0z"/><path d="M436.9 275.4l8.0 -13.9h-16.0z"/><path d="M438.9 273.8l8.0 -13.9h-16.0z"/><path d="M440.9 272.2l8.0 -13.9h-16.0z"/><path d="M442.8 270.6l8.0 -13.9h-16.0z"/><path d="M444.8 269.0l8.0 -13.9h-16.0z"/><path d="M446.8 267.4l8.0 -13.9h-16.0z"/><path d="M448.8 265.8l8.0 -13.9h-16.0z"/><path d="M450.8 264.2l8.0 -13.9h-16.0z"/><path d="M452.9 262.5l8.0 -13.9h-16.0z"/><path d="M454.9 260.9l8.0 -13.9h-16.0z"/><path d="M456.9 259.3l8.0 -13.9h-16.0z"/><path d="M459.0 257.6l8.0 -13.9h-16.0z"/><path d="M461.1 256.0l8.0 -13.9h-16.0z"/><path d="M463.1 254.3l8.0 -13.9h-16.0z"/><path d="M465.2 252.7l8.0 -13.9h-16.0z"/><path d="M467.3 251.0l8.0 -13.9h-16.0z"/><path d="M469.4 249.4l8.0 -13.9h-16.0z"/><path d="M471.5 247.7l8.0 -13.9h-16.0z"/><path d="M473.6 246.0l8.0 -13.9h-16.0z"/><path d="M475.8 244.3l8.0 -13.9h-16.0z"/><path d="M477.9 242.7l8.0 -13.9h-16.0z"/><path d="M116.4 490.2l8.0 -13.9h-16.0z"/><path d="M117.2 490.2l8.0 -13.9h-16.0z"/><path d="M117.9 490.1l8.0 -13.9h-16.0z"/><path d="M118.7 490.0l8.0 -13.9h-16.0z"/><path d="M119.5 490.0l8.0 -13.9h-16.0z"/><path d="M120.2 489.9l8.0 -13.9h-16.0z"/><path d="M121.0 489.8l8.0 -13.9h-16.0z"/><path d="M121.8 489.8l8.0 -13.9h-16.0z"/><path d="M122.6 489.7l8.0 -13.9h-16.0z"/><path d="M123.4 489.6l8.0 -13.9h-16.0z"/><path d="M124.2 489.6l8.0 -13.9h-16.0z"/><path d="M124.9 489.5l8.0 -13.9h-16.0z"/><path d="M125.7 489.4l8.0 -13.9h-16.0z"/><path d="M126.5 489.3l8.0 -13.9h-16.0z"/><path d="M127.3 489.2l8.0 -13.9h-16.0z"/><path d="M128.1 489.2l8.0 -13.9h-16.0z"/><path d="M128.9 489.1l8.0 -13.9h-16.0z"/><path d="M129.7 489.0l8.0 -13.9h-16.0z"/><path d="M130.5 488.9l8.0 -13.9h-16.0z"/><path d="M131.3 488.8l8.0 -13.9h-16.0z"/><path d="M132.2 488.7l8.0 -13.9h-16.0z"/><path d="M133.0 488.6l8.0 -13.9h-16.0z"/><path d="M133.8 488.5l8.0 -13.9h-16.0z"/><path d="M134.6 488.4l8.0 -13.9h-16.0z"/><path d="M135.4 488.3l8.0 -13.9h-16.0z"/><path d="M136.2 488.2l8.0 -13.9h-16.0z"/><path d="M137.1 488.1l8.0 -13.9h-16.0z"/><path d="M137.9 488.0l8.0 -13.9h-16.0z"/><path d="M138.7 487.9l8.0 -13.9h-16.0z"/><path d="M139.6 487.8l8.0 -13.9h-16.0z"/><path d="M140.4 487.7l8.0 -13.9h-16.0z"/><path d="M141.2 487.6l8.0 -13.9h-16.0z"/><path d="M142.1 487.5l8.0 -13.9h-16.0z"/><path d="M142.9 487.3l8.0 -13.9h-16.0z"/><path d="M143.8 487.2l8.0 -13.9h-16.0z"/><path d="M144.6 487.1l8.0 -13.9h-16.0z"/><path d="M145.4 487.0l8.0 -13.9h-16.0z"/><path d="M146.3 486.8l8.0 -13.9h-16.0z"/><path d="M147.2 486.7l8.0 -13.9h-16.0z"/><path d="M148.0 486.6l8.0 -13.9h-16.0z"/><path d="M148.9 486.4l8.0 -13.9h-16.0z"/><path d="M149.7 486.3l8.0 -13.9h-16.0z"/><path d="M150.6 486.2l8.0 -13.9h-16.0z"/><path d="M151.5 486.0l8.0 -13.9h-16.0z"/><path d="M152.3 485.9l8.0 -13.9h-16.0z"/><path d="M153.2 485.7l8.0 -13.9h-16.0z"/><path d="M154.1 485.6l8.0 -13.9h-16.0z"/><path d="M155.0 485.4l8.0 -13.9h-16.0z"/><path d="M155.8 485.3l8.0 -13.9h-16.0z"/><path d="M156.7 485.1l8.0 -13.9h-16.0z"/><path d="M157.6 484.9l8.0 -13.9h-16.0z"/><path d="M158.5 484.8l8.0 -13.9h-16.0z"/><path d="M159.4 484.6l8.0 -13.9h-16.0z"/><path d="M160.3 484.4l8.0 -13.9h-16.0z"/><path d="M161.2 484.2l8.0 -13.9h-16.0z"/><path d="M162.1 484.0l8.0 -13.9h-16.0z"/><path d="M163.0 483.9l8.0 -13.9h-16.0z"/><path d="M163.9 483.7l8.0 -13.9h-16.0z"/><path d="M164.8 483.5l8.0 -13.9h-16.0z"/><path d="M165.7 483.3l8.0 -13.9h-16.0z"/><path d="M166.6 483.1l8.0 -13.9h-16.0z"/><path d="M167.6 482.9l8.0 -13.9h-16.0z"/><path d="M168.5 482.7l8.0 -13.9h-16.0z"/><path d="M169.4 482.5l8.0 -13.9h-16.0z"/><path d="M170.3 482.2l8.0 -13.9h-16.0z"/><path d="M171.2 482.0l8.0 -13.9h-16.0z"/><path d="M172.2 481.8l8.0 -13.9h-16.0z"/><path d="M173.1 481.6l8.0 -13.9h-16.0z"/><path d="M174.1 481.3l8.0 -13.9h-16.0z"/><path d="M175.0 481.1l8.0 -13.9h-16.0z"/><path d="M175.9 480.9l8.0 -13.9h-16.0z"/><path d="M176.9 480.6l8.0 -13.9h-16.0z"/><path d="M177.8 480.4l8.0 -13.9h-16.0z"/><path d="M178.8 480.1l8.0 -13.9h-16.0z"/><path d="M179.7 479.8l8.0 -13.9h-16.0z"/><path d="M180.7 479.6l8.0 -13.9h-16.0z"/><path d="M181.7 479.3l8.0 -13.9h-16.0z"/><path d="M182.6 479.0l8.0 -13.9h-16.0z"/><path d="M183.6 478.8l8.0 -13.9h-16.0z"/><path d="M184.6 478.5l8.0 -13.9h-16.0z"/><path d="M185.5 478.2l8.0 -13.9h-16.0z"/><path d="M186.5 477.9l8.0 -13.9h-16.0z"/><path d="M187.5 477.6l8.0 -13.9h-16.0z"/><path d="M188.5 477.3l8.0 -13.9h-16.0z"/><path d="M189.5 477.0l8.0 -13.9h-16.0z"/><path d="M190.5 476.6l8.0 -13.9h-16.0z"/><path d="M191.5 476.3l8.0 -13.9h-16.0z"/><path d="M192.5 476.0l8.0 -13.9h-16.0z"/><path d="M193.5 475.6l8.0 -13.9h-16.0z"/><path d="M194.5 475.3l8.0 -13.9h-16.0z"/><path d="M195.5 474.9l8.0 -13.9h-16.0z"/><path d="M196.5 474.6l8.0 -13.9h-16.0z"/><path d="M197.5 474.2l8.0 -13.9h-16.0z"/><path d="M198.5 473.8l8.0 -13.9h-16.0z"/><path d="M199.5 473.5l8.0 -13.9h-16.0z"/><path d="M200.5 473.1l8.0 -13.9h-16.0z"/><path d="M201.6 472.7l8.0 -13.9h-16.0z"/><path d="M202.6 472.3l8.0 -13.9h-16.0z"/><path d="M203.6 471.9l8.0 -13.9h-16.0z"/><path d="M204.7 471.4l8.0 -13.9h-16.0z"/><path d="M205.7 471.0l8.0 -13.9h-16.0z"/><path d="M206.8 470.6l8.0 -13.9h-16.0z"/><path d="M207.8 470.1l8.0 -13.9h-16.0z"/><path d="M208.9 469.7l8.0 -13.9h-16.0z"/><path d="M209.9 469.2l8.0 -13.9h-16.0z"/><path d="M211.0 468.7l8.0 -13.9h-16.0z"/><path d="M212.0 468.2l8.0 -13.9h-16.0z"/><path d="M213.1 467.8l8.0 -13.9h-16.0z"/><path d="M214.2 467.2l8.0 -13.9h-16.0z"/><path d="M215.2 466.7l8.0 -13.9h-16.0z"/><path d="M216.3 466.2l8.0 -13.9h-16.0z"/><path d="M217.4 465.7l8.0 -13.9h-16.0z"/><path d="M218.5 465.1l8.0 -13.9h-16.0z"/><path d="M219.6 464.6l8.0 -13.9h-16.0z"/><path d="M220.6 464.0l8.0 -13.9h-16.0z"/><path d="M221.7 463.4l8.0 -13.9h-16.0z"/><path d="M222.8 462.8l8.0 -13.9h-16.0z"/><path d="M223.9 462.2l8.0 -13.9h-16.0z"/><path d="M225.0 461.6l8.0 -13.9h-16.0z"/><path d="M226.2 460.9l8.0 -13.9h-16.0z"/><path d="M227.3 460.3l8.0 -13.9h-16.0z"/><path d="M228.4 459.6l8.0 -13.9h-16.0z"/><path d="M229.5 458.9l8.0 -13.9h-16.0z"/><path d="M230.6 458.3l8.0 -13.9h-16.0z"/><path d="M231.8 457.6l8.0 -13.9h-16.0z"/><path d="M232.9 456.8l8.0 -13.9h-16.0z"/><path d="M234.0 456.1l8.0 -13.9h-16.0z"/><path d="M235.2 455.4l8.0 -13.9h-16.0z"/><path d="M236.3 454.6l8.0 -13.9h-16.0z"/><path d="M237.5 453.8l8.0 -13.9h-16.0z"/><path d="M238.6 453.0l8.0 -13.9h-16.0z"/><path d="M239.8 452.2l8.0 -13.9h-16.0z"/><path d="M240.9 451.4l8.0 -13.9h-16.0z"/><path d="M242.1 450.6l8.0 -13.9h-16.0z"/><path d="M243.3 449.7l8.0 -13.9h-16.0z"/><path d="M244.4 448.8l8.0 -13.9h-16.0z"/><path d="M245.6 448.0l8.0 -13.9h-16.0z"/><path d="M246.8 447.1l8.0 -13.9h-16.0z"/><path d="M248.0 446.2l8.0 -13.9h-16.0z"/><path d="M249.2 445.2l8.0 -13.9h-16.0z"/><path d="M250.4 444.3l8.0 -13.9h-16.0z"/><path d="M251.6 443.3l8.0 -13.9h-16.0z"/><path d="M252.8 442.4l8.0 -13.9h-16.0z"/><path d="M254.0 441.4l8.0 -13.9h-16.0z"/><path d="M255.2 440.4l8.0 -13.9h-16.0z"/><path d="M256.4 439.4l8.0 -13.9h-16.0z"/><path d="M257.6 438.3l8.0 -13.9h-16.0z"/><path d="M258.8 437.3l8.0 -13.9h-16.0z"/><path d="M260.1 436.2l8.0 -13.9h-16.0z"/><path d="M261.3 435.1l8.0 -13.9h-16.0z"/><path d="M262.5 434.1l8.0 -13.9h-16.0z"/><path d="M263.8 432.9l8.0 -13.9h-16.0z"/><path d="M265.0 431.8l8.0 -13.9h-16.0z"/><path d="M266.3 430.7l8.0 -13.9h-16.0z"/><path d="M267.5 429.5l8.0 -13.9h-16.0z"/><path d="M268.8 428.4l8.0 -13.9h-16.0z"/><path d="M270.1 427.2l8.0 -13.9h-16.0z"/><path d="M271.3 426.0l8.0 -13.9h-16.0z"/><path d="M272.6 424.8l8.0 -13.9h-16.0z"/><path d="M273.9 423.6l8.0 -13.9h-16.0z"/><path d="M275.2 422.4l8.0 -13.9h-16.0z"/><path d="M276.5 421.1l8.0 -13.9h-16.0z"/><path d="M277.8 419.9l8.0 -13.9h-16.0z"/><path d="M279.1 418.6l8.0 -13.9h-16.0z"/><path d="M280.4 417.3l8.0 -13.9h-16.0z"/><path d="M281.7 416.0l8.0 -13.9h-16.0z"/><path d="M283.0 414.7l8.0 -13.9h-16.0z"/><path d="M284.3 413.4l8.0 -13.9h-16.0z"/><path d="M285.6 412.1l8.0 -13.9h-16.0z"/><path d="M287.0 410.8l8.0 -13.9h-16.0z"/><path d="M288.3 409.4l8.0 -13.9h-16.0z"/><path d="M289.6 408.1l8.0 -13.9h-16.0z"/><path d="M291.0 406.7l8.0 -13.9h-16.0z"/><path d="M292.3 405.4l8.0 -13.9h-16.0z"/><path d="M293.7 404.0l8.0 -13.9h-16.0z"/><path d="M295.0 402.6l8.0 -13.9h-16.0z"/><path d="M296.4 401.2l8.0 -13.9h-16.0z"/><path d="M297.8 399.8l8.0 -13.9h-16.0z"/><path d="M299.1 398.4l8.0 -13.9h-16.0z"/><path d="M300.5 397.0l8.0 -13.9h-16.0z"/><path d="M301.9 395.6l8.0 -13.9h-16.0z"/><path d="M303.3 394.2l8.0 -13.9h-16.0z"/><path d="M304.7 392.8l8.0 -13.9h-16.0z"/><path d="M306.1 391.4l8.0 -13.9h-16.0z"/><path d="M307.5 390.0l8.0 -13.9h-16.0z"/><path d="M308.9 388.6l8.0 -13.9h-16.0z"/><path d="M310.3 387.2l8.0 -13.9h-16.0z"/><path d="M311.7 385.7l8.0 -13.9h-16.0z"/><path d="M313.2 384.3l8.0 -13.9h-16.0z"/><path d="M314.6 382.9l8.0 -13.9h-16.0z"/><path d="M316.0 381.5l8.0 -13.9h-16.0z"/><path d="M317.5 380.1l8.0 -13.9h-16.0z"/><path d="M318.9 378.6l8.0 -13.9h-16.0z"/><path d="M320.4 377.2l8.0 -13.9h-16.0z"/><path d="M321.9 375.8l8.0 -13.9h-16.0z"/><path d="M323.3 374.4l8.0 -13.9h-16.0z"/><path d="M324.8 372.9l8.0 -13.9h-16.0z"/><path d="M326.3 371.5l8.0 -13.9h-16.0z"/><path d="M327.8 370.1l8.0 -13.9h-16.0z"/><path d="M329.3 368.7l8.0 -13.9h-16.0z"/><path d="M330.8 367.2l8.0 -13.9h-16.0z"/><path d="M332.3 365.8l8.0 -13.9h-16.0z"/><path d="M333.8 364.3l8.0 -13.9h-16.0z"/><path d="M335.3 362.9l8.0 -13.9h-16.0z"/><path d="M336.8 361.5l8.0 -13.9h-16.0z"/><path d="M338.3 360.0l8.0 -13.9h-16.0z"/><path d="M339.9 358.6l8.0 -13.9h-16.0z"/><path d="M341.4 357.1l8.0 -13.9h-16.0z"/><path d="M342.9 355.7l8.0 -13.9h-16.0z"/><path d="M344.5 354.3l8.0 -13.9h-16.0z"/><path d="M346.1 352.8l8.0 -13.9h-16.0z"/><path d="M347.6 351.4l8.0 -13.9h-16.0z"/><path d="M349.2 349.9l8.0 -13.9h-16.0z"/><path d="M350.8 348.4l8.0 -13.9h-16.0z"/><path d="M352.4 347.0l8.0 -13.9h-16.0z"/><path d="M354.0 345.5l8.0 -13.9h-16.0z"/><path d="M355.6 344.1l8.0 -13.9h-16.0z"/><path d="M357.2 342.6l8.0 -13.9h-16.0z"/><path d="M358.8 341.2l8.0 -13.9h-16.0z"/><path d="M360.4 339.7l8.0 -13.9h-16.0z"/><path d="M362.0 338.2l8.0 -13.9h-16.0z"/><path d="M363.6 336.7l8.0 -13.9h-16.0z"/><path d="M365.3 335.3l8.0 -13.9h-16.0z"/><path d="M366.9 333.8l8.0 -13.9h-16.0z"/><path d="M368.6 332.3l8.0 -13.9h-16.0z"/><path d="M370.2 330.8l8.0 -13.9h-16.0z"/><path d="M371.9 329.4l8.0 -13.9h-16.0z"/><path d="M373.6 327.9l8.0 -13.9h-16.0z"/><path d="M375.3 326.4l8.0 -13.9h-16.0z"/><path d="M376.9 324.9l8.0 -13.9h-16.0z"/><path d="M378.6 323.4l8.0 -13.9h-16.0z"/><path d="M380.3 321.9l8.0 -13.9h-16.0z"/><path d="M382.0 320.4l8.0 -13.9h-16.0z"/><path d="M383.8 318.9l8.0 -13.9h-16.0z"/><path d="M385.5 317.4l8.0 -13.9h-16.0z"/><path d="M387.2 315.9l8.0 -13.9h-16.0z"/><path d="M389.0 314.4l8.0 -13.9h-16.0z"/><path d="M390.7 312.9l8.0 -13.9h-16.0z"/><path d="M392.5 311.4l8.0 -13.9h-16.0z"/><path d="M394.2 309.9l8.0 -13.9h-16.0z"/><path d="M396.0 308.4l8.0 -13.9h-16.0z"/><path d="M397.8 306.9l8.0 -13.9h-16.0z"/><path d="M399.5 305.3l8.0 -13.9h-16.0z"/><path d="M401.3 303.8l8.0 -13.9h-16.0z"/><path d="M403.1 302.3l8.0 -13.9h-16.0z"/><path d="M404.9 300.8l8.0 -13.9h-16.0z"/><path d="M406.8 299.2l8.0 -13.9h-16.0z"/><path d="M408.6 297.7l8.0 -13.9h-16.0z"/><path d="M410.4 296.1l8.0 -13.9h-16.0z"/><path d="M412.3 294.6l8.0 -13.9h-16.0z"/><path d="M414.1 293.0l8.0 -13.9h-16.0z"/><path d="M416.0 291.5l8.0 -13.9h-16.0z"/><path d="M417.8 289.9l8.0 -13.9h-16.0z"/><path d="M419.7 288.4l8.0 -13.9h-16.0z"/><path d="M421.6 286.8l8.0 -13.9h-16.0z"/><path d="M423.5 285.3l8.0 -13.9h-16.0z"/><path d="M425.4 283.7l8.0 -13.9h-16.0z"/><path d="M427.3 282.1l8.0 -13.9h-16.0z"/><path d="M429.2 280.5l8.0 -13.9h-16.0z"/><path d="M431.1 279.0l8.0 -13.9h-16.0z"/><path d="M433.0 277.4l8.0 -13.9h-16.0z"/><path d="M435.0 275.8l8.0 -13.9h-16.0z"/><path d="M436.9 274.2l8.0 -13.9h-16.0z"/><path d="M438.9 272.6l8.0 -13.9h-16.0z"/><path d="M440.9 271.0l8.0 -13.9h-16.0z"/><path d="M442.8 269.4l8.0 -13.9h-16.0z"/><path d="M444.8 267.8l8.0 -13.9h-16.0z"/><path d="M446.8 266.2l8.0 -13.9h-16.0z"/><path d="M448.8 264.6l8.0 -13.9h-16.0z"/><path d="M450.8 263.0l8.0 -13.9h-16.0z"/><path d="M452.9 261.3l8.0 -13.9h-16.0z"/><path d="M454.9 259.7l8.0 -13.9h-16.0z"/><path d="M456.9 258.1l8.0 -13.9h-16.0z"/><path d="M459.0 256.4l8.0 -13.9h-16.0z"/><path d="M461.1 254.8l8.0 -13.9h-16.0z"/><path d="M463.1 253.1l8.0 -13.9h-16.0z"/><path d="M465.2 251.5l8.0 -13.9h-16.0z"/><path d="M467.3 249.8l8.0 -13.9h-16.0z"/><path d="M469.4 248.2l8.0 -13.9h-16.0z"/><path d="M471.5 246.5l8.0 -13.9h-16.0z"/><path d="M473.6 244.8l8.0 -13.9h-16.0z"/><path d="M475.8 243.1l8.0 -13.9h-16.0z"/><path d="M477.9 241.5l8.0 -13.9h-16.0z"/><path d="M480.1 239.8l8.0 -13.9h-16.0z"/><path d="M482.2 238.1l8.0 -13.9h-16.0z"/><path d="M484.4 236.4l8.0 -13.9h-16.0z"/><path d="M486.6 234.7l8.0 -13.9h-16.0z"/><path d="M488.8 233.0l8.0 -13.9h-16.0z"/><path d="M491.0 231.2l8.0 -13.9h-16.0z"/><path d="M493.2 229.5l8.0 -13.9h-16.0z"/><path d="M495.4 227.8l8.0 -13.9h-16.0z"/><path d="M497.7 226.0l8.0 -13.9h-16.0z"/><path d="M499.9 224.3l8.0 -13.9h-16.0z"/><path d="M502.2 222.5l8.0 -13.9h-16.0z"/><path d="M504.4 220.8l8.0 -13.9h-16.0z"/><path d="M506.7 219.0l8.0 -13.9h-16.0z"/><path d="M509.0 217.3l8.0 -13.9h-16.0z"/><path d="M511.3 215.5l8.0 -13.9h-16.0z"/><path d="M513.6 213.7l8.0 -13.9h-16.0z"/><path d="M516.0 211.9l8.0 -13.9h-16.0z"/><path d="M518.3 210.1l8.0 -13.9h-16.0z"/></g><line x1="256" y1="10" x2="181.8" y2="462.8" stroke="#000" stroke-width="3.4"/><path d="M178.2 484.5L175.2 459.7L189.0 461.9z" fill="#000"/><line x1="314" y1="71" x2="246.7" y2="463.8" stroke="#000" stroke-width="3.4"/><path d="M243.0 485.5L240.2 460.7L254.0 463.0z" fill="#000"/><line x1="442.3" y1="71.7" x2="220.8" y2="466.8" stroke="#000" stroke-width="3.4"/><path d="M210.0 486.0L215.6 461.6L227.8 468.5z" fill="#000"/><line x1="496.3" y1="218.5" x2="181.7" y2="470.0" stroke="#000" stroke-width="3.4"/><path d="M164.5 483.7L178.9 463.2L187.6 474.2z" fill="#000"/><g font-family="Liberation Sans, sans-serif" font-weight="bold" font-size="21.5" fill="#000"><text x="160.1" y="152.5" letter-spacing="0.8">NF-C</text><text x="215.5" y="159.6" font-size="15">1</text><text x="318" y="65" letter-spacing="0.8">NF-C</text><text x="373.3" y="72.2" font-size="15">2</text><text x="428.5" y="112.4" letter-spacing="0.8">NF-C</text><text x="483" y="119.8" font-size="15">4</text><text x="455.9" y="277.7" letter-spacing="0.8">NF-C</text><text x="511" y="284.8" font-size="15">3</text></g></svg></body></html>
